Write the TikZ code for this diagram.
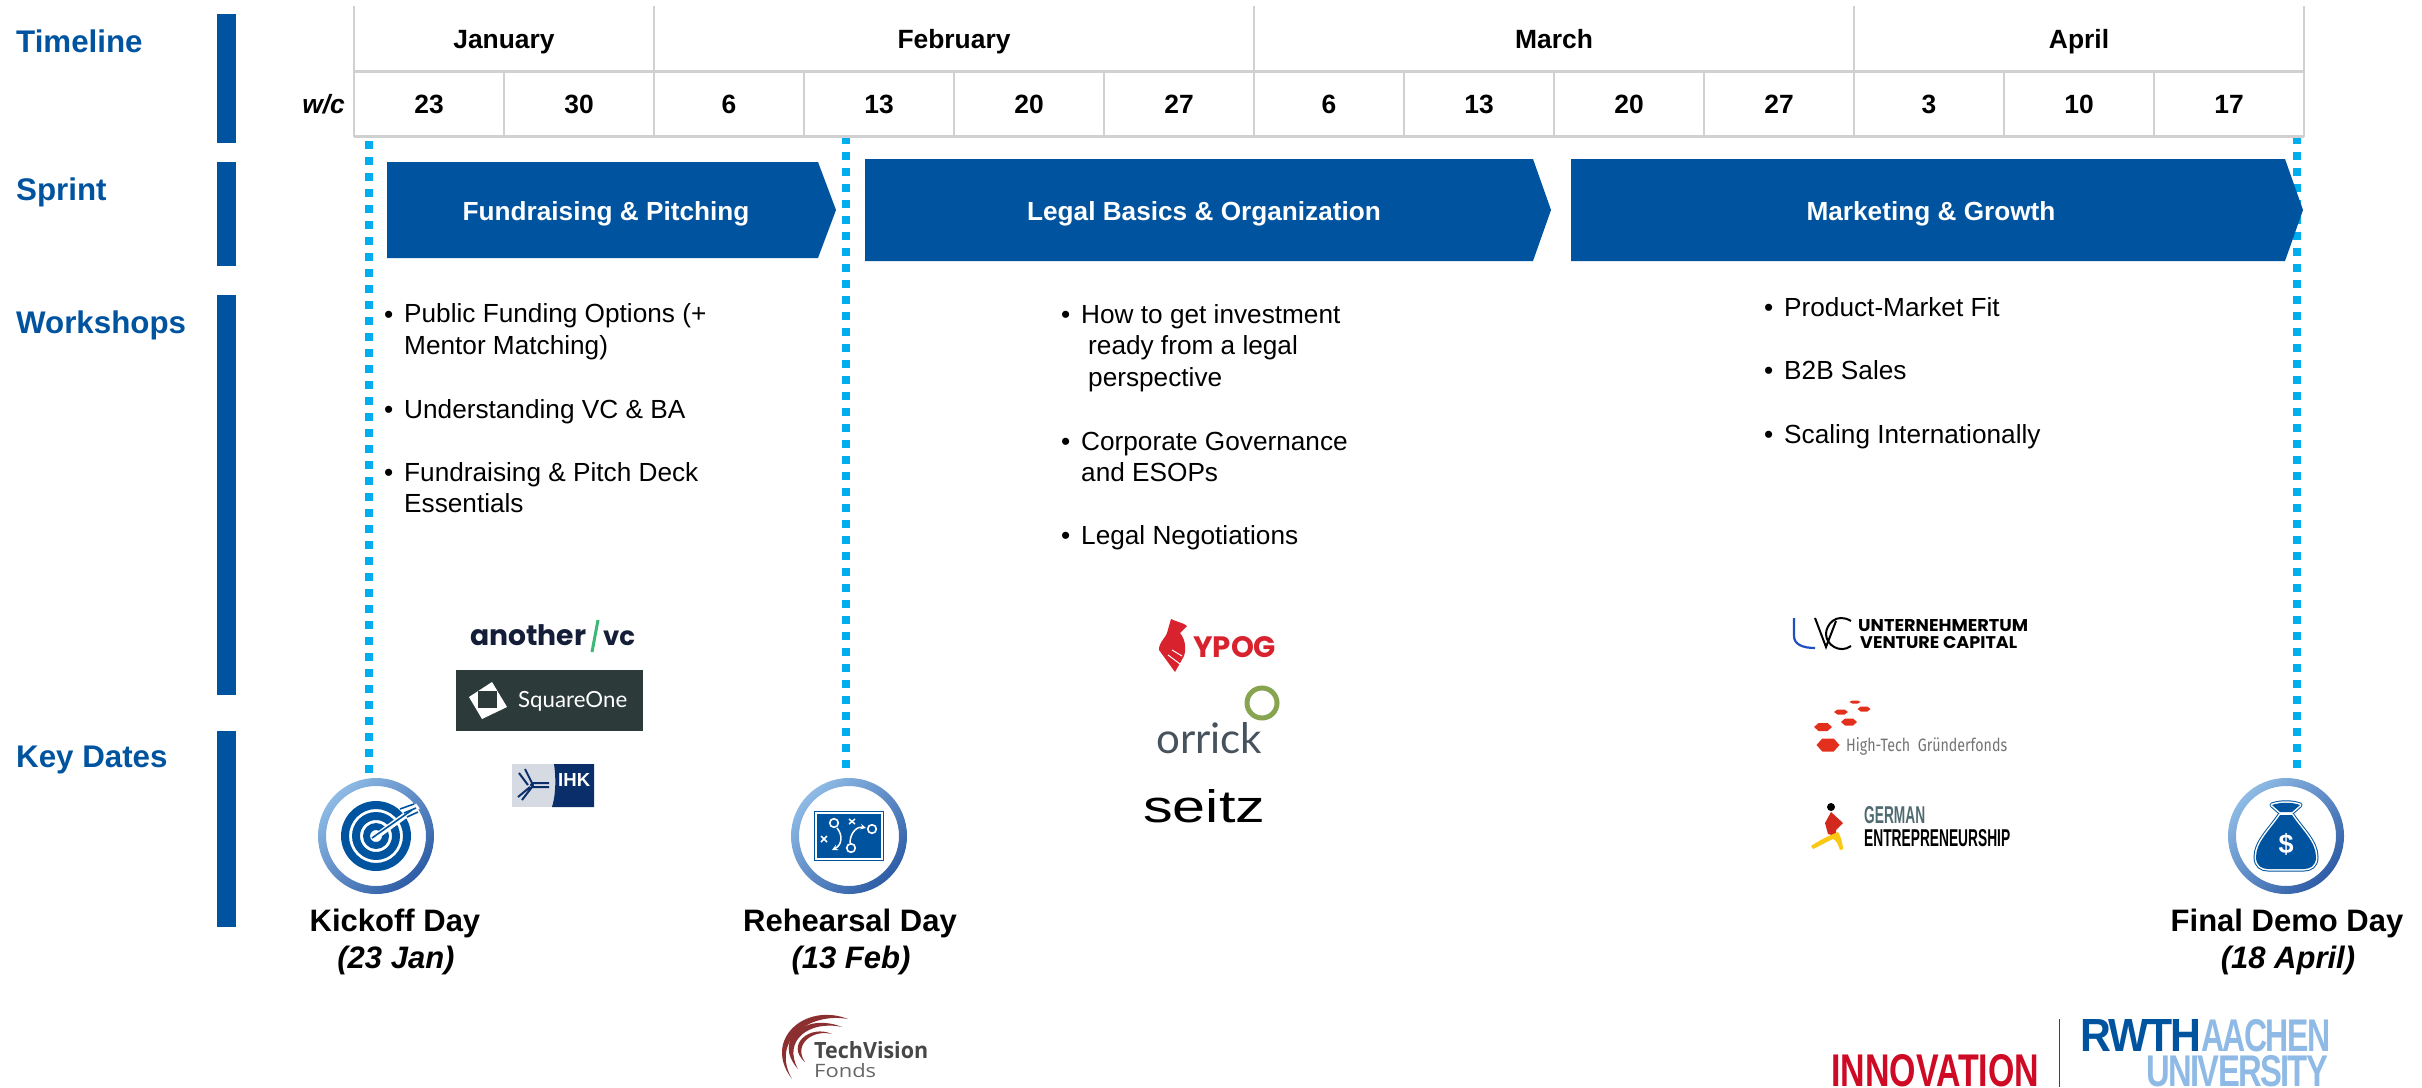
\documentclass[tikz,border=0pt]{standalone}
\usepackage{fontspec}
\usepackage{graphicx}
\setmainfont{Liberation Sans}
\newfontfamily\popf{Poppins}
\newfontfamily\openf{Open Sans}
\newfontfamily\latof{Lato}
\newfontfamily\firaf{Fira Sans}
\newfontfamily\tightf[LetterSpace=-5]{Liberation Sans}
\definecolor{rwthblue}{HTML}{00539F}
\definecolor{rwthlight}{HTML}{8EBAE5}
\definecolor{gridgrey}{HTML}{D0D0D0}
\definecolor{dotblue}{HTML}{00AEEF}
\definecolor{ringdark}{HTML}{2F5DA6}
\definecolor{hexred}{HTML}{E3301C}
\definecolor{navyink}{HTML}{141E38}
\definecolor{greenslash}{HTML}{3DB878}
\definecolor{sqdark}{HTML}{2C3B3A}
\definecolor{ihkgrey}{HTML}{D6DAE3}
\definecolor{ihknavy}{HTML}{0A2E6A}
\definecolor{tvred}{HTML}{8C2F30}
\definecolor{ypred}{HTML}{D8232F}
\definecolor{orrgreen}{HTML}{87A550}
\definecolor{orrgrey}{HTML}{46525E}
\definecolor{uvcblue}{HTML}{1F4FC0}
\definecolor{gerred}{HTML}{D2281E}
\definecolor{geryellow}{HTML}{FAC814}
\definecolor{gerslate}{HTML}{4F6A70}
\definecolor{innored}{HTML}{CE0A24}
\newcommand{\fz}[1]{\fontsize{#1}{#1}\selectfont}
% \fitlabel{name}{x}{baseline y}{width}{height}{colour}{font + text}
\newcommand{\fitlabel}[7]{\node[anchor=base west,inner sep=0pt,text=#6] (#1) at (#2,#3) {\resizebox{#4pt}{#5pt}{#7}};}
\newcommand{\hexa}[4]{\fill[hexred] (#1-#3/2,#2) -- (#1-#3/4,#2-#4/2) -- (#1+#3/4,#2-#4/2) -- (#1+#3/2,#2) -- (#1+#3/4,#2+#4/2) -- (#1-#3/4,#2+#4/2) -- cycle;}
\newcommand{\ring}[2]{\shade[even odd rule,top color=rwthlight,bottom color=ringdark,shading angle=45] (#1,#2) circle[radius=58] (#1,#2) circle[radius=50];}
\tikzset{
  sidebar/.style={fill=rwthblue},
  rowlabel/.style={anchor=base west,inner sep=0pt,text=rwthblue,font=\fz{31.3}\bfseries},
  month/.style={anchor=base,inner sep=0pt,font=\fz{26.4}\bfseries},
  sprintlabel/.style={anchor=base,inner sep=0pt,text=white,font=\fz{26.2}\bfseries},
  item/.style={anchor=base west,inner sep=0pt,font=\fz{26.2}},
  dayname/.style={anchor=base,inner sep=0pt,font=\fz{31}\bfseries},
  daydate/.style={anchor=base,inner sep=0pt,font=\fz{31}\bfseries\itshape},
  gridh/.style={draw=gridgrey,line width=3pt},
  gridv/.style={draw=gridgrey,line width=2pt},
  keyline/.style={draw=dotblue,line width=8pt,dash pattern=on 8pt off 8pt},
}
\begin{document}
\begin{tikzpicture}[x=1pt,y=-1pt]
\useasboundingbox (0,0) rectangle (2422,1087);
% side bars
\fill[sidebar] (217,14) rectangle (236,143);
\fill[sidebar] (217,162) rectangle (236,266);
\fill[sidebar] (217,295) rectangle (236,695);
\fill[sidebar] (217,731) rectangle (236,927);
\node[rowlabel] (lblTimeline) at (16,52) {Timeline};
\node[rowlabel] (lblSprint) at (16,200) {Sprint};
\node[rowlabel] (lblWorkshops) at (16,333) {Workshops};
\node[rowlabel] (lblKeyDates) at (16,767) {Key Dates};
% dotted key-date lines
\coordinate (kickTop) at (369,141); \coordinate (kickEnd) at (369,774);
\coordinate (rehTop) at (846,136); \coordinate (rehEnd) at (846,770);
\coordinate (demoTop) at (2297,136); \coordinate (demoEnd) at (2297,770);
\draw[keyline] (kickTop) -- (kickEnd);
\draw[keyline] (rehTop) -- (rehEnd);
\draw[keyline] (demoTop) -- (demoEnd);
% grid
\foreach \k in {0,...,13} {\draw[gridv] (354+150*\k,71) -- (354+150*\k,137);}
\foreach \xx in {354,654,1254,1854,2304} {\draw[gridv] (\xx,6) -- (\xx,71);}
\draw[gridh] (354,71) -- (2304,71);
\draw[gridh] (354,136) -- (2304,136);
\node[month] (mJan) at (504,48) {January};
\node[month] (mFeb) at (954,48) {February};
\node[month] (mMar) at (1554,48) {March};
\node[month] (mApr) at (2079,48) {April};
\node[anchor=base east,inner sep=0pt,font=\fz{26.4}\bfseries\itshape] (wc) at (345,113) {w/c};
\foreach \lab [count=\i from 0] in {23,30,6,13,20,27,6,13,20,27,3,10,17} {
  \node[month] (wk\i) at (429+150*\i,113) {\lab};
}
% sprint arrows
\fill[rwthblue] (387,162) -- (818,162) -- (836,210) -- (818,258) -- (387,258) -- cycle;
\fill[rwthblue] (865,159) -- (1533,159) -- (1551,210) -- (1533,261) -- (865,261) -- cycle;
\fill[rwthblue] (1571,159) -- (2285,159) -- (2303,210) -- (2285,261) -- (1571,261) -- cycle;
\node[sprintlabel] (spA) at (606,220) {Fundraising \& Pitching};
\node[sprintlabel] (spB) at (1204,220) {Legal Basics \& Organization};
\node[sprintlabel] (spC) at (1931,220) {Marketing \& Growth};
% workshops col 1
\node[item] (a0) at (384,323) {•};
\node[item] (a1) at (404,322) {Public Funding Options (+};
\node[item] (a2) at (404,354) {Mentor Matching)};
\node[item] (a3) at (384,418) {•};
\node[item] (a4) at (404,418) {Understanding VC \& BA};
\node[item] (a5) at (384,481) {•};
\node[item] (a6) at (404,481) {Fundraising \& Pitch Deck};
\node[item] (a7) at (404,512) {Essentials};
% col 2
\node[item] (b0) at (1061,323) {•};
\node[item] (b1) at (1081,323) {How to get investment};
\node[item] (b2) at (1088,354) {ready from a legal};
\node[item] (b3) at (1088,386) {perspective};
\node[item] (b4) at (1061,450) {•};
\node[item] (b5) at (1081,450) {Corporate Governance};
\node[item] (b6) at (1081,481) {and ESOPs};
\node[item] (b7) at (1061,544) {•};
\node[item] (b8) at (1081,544) {Legal Negotiations};
% col 3
\node[item] (c0) at (1764,316) {•};
\node[item] (c1) at (1784,316) {Product-Market Fit};
\node[item] (c2) at (1764,379) {•};
\node[item] (c3) at (1784,379) {B2B Sales};
\node[item] (c4) at (1764,443) {•};
\node[item] (c5) at (1784,443) {Scaling Internationally};
% rings
\ring{376}{836}
\ring{849}{836}
\ring{2286}{836}
% target icon
\foreach \ro/\ri in {35/27,24/16,13/6} {\fill[rwthblue,even odd rule] (376,836) circle[radius=\ro] (376,836) circle[radius=\ri];}
\draw[white,line width=6pt] (374,838) -- (418,806);
\draw[white,line width=5pt] (408,808) -- (418,815);
\draw[rwthblue,line width=1.6pt] (372,838) -- (412,810);
\draw[rwthblue,line width=1.6pt] (400,809) -- (414,804);
\draw[rwthblue,line width=1.6pt] (407,817) -- (418,812);
\draw[rwthblue,line width=1.6pt] (404,813) -- (416,808);
% plan icon
\fill[rwthblue] (814,811) rectangle (884,861);
\draw[white,line width=1.3pt] (816,813) rectangle (882,859);
\draw[white,line width=1.6pt] (834,823) circle[radius=4.3] (872,829) circle[radius=4.3] (851,848) circle[radius=4.3];
\draw[white,line width=1.5pt] (849,819) -- (855,824) (855,819) -- (849,824) (821,836) -- (827,842) (827,836) -- (821,842);
\draw[white,line width=1.5pt,->,>=stealth] (837,828) .. controls (843,835) and (842,845) .. (832,850);
\draw[white,line width=1.5pt,->,>=stealth] (850,843) .. controls (850,832) and (858,826) .. (866,828);
% money bag icon
\def\bag{(2280,815) .. controls (2270,830) and (2256,842) .. (2256,857) .. controls (2256,866) and (2262,869) .. (2268,869) -- (2304,869) .. controls (2310,869) and (2316,866) .. (2316,857) .. controls (2316,842) and (2302,830) .. (2292,815) -- cycle
 (2272,805) .. controls (2280,802) and (2292,802) .. (2300,805) -- (2292,812) -- (2280,812) -- cycle}
\draw[rwthblue,line width=5pt,line join=round] \bag;
\draw[white,line width=3pt,line join=round] \bag;
\fill[rwthblue] \bag;
\node[anchor=center,inner sep=0pt,text=white,font=\fz{27}\bfseries] (dollar) at (2286,844) {\$};
% key dates
\node[dayname] (dA) at (395,931) {Kickoff Day};
\node[daydate] (dB) at (396,968) {(23 Jan)};
\node[dayname] (dC) at (850,931) {Rehearsal Day};
\node[daydate] (dD) at (851,968) {(13 Feb)};
\node[dayname] (dE) at (2287,931) {Final Demo Day};
\node[daydate] (dF) at (2288,968) {(18 April)};
% another|vc
\node[anchor=base west,inner sep=0pt,text=navyink] (logoAnother) at (470,645) {\resizebox{116pt}{!}{\popf\bfseries another}};
\draw[greenslash,line width=3pt] (598,620) -- (592,652);
\node[anchor=base west,inner sep=0pt,text=navyink] (logoVc) at (603,645) {\resizebox{32pt}{!}{\popf\bfseries vc}};
% SquareOne
\fill[sqdark] (456,670) rectangle (643,731);
\fill[white] (492,682) -- (507,707) -- (482,719) -- (469,697) -- cycle;
\fill[sqdark] (478,691) rectangle (497,708);
\node[anchor=base west,inner sep=0pt,text=white] (logoSquare) at (518,707) {\resizebox{109pt}{!}{\latof SquareOne}};
% IHK
\fill[ihkgrey] (512,764) rectangle (556,807);
\fill[ihknavy] (554,764) -- (594,764) -- (594,807) -- (552,807) .. controls (556,795) and (556,776) .. (554,764) -- cycle;
\fitlabel{logoIHK}{558}{786}{32}{13}{white}{\bfseries IHK}
\draw[ihknavy,line width=2pt] (525,769) -- (532,783) -- (549,783) (519,773) -- (528,785) (532,787) -- (549,787) (532,787) -- (522,800) (530,787) -- (518,797);
\fill[ihknavy] (532,785) circle[radius=2];
% TechVision
\fill[tvred] (848,1019) .. controls (805,1002) and (762,1040) .. (792,1079) .. controls (770,1040) and (810,1012) .. (848,1019) -- cycle;
\fill[tvred] (842,1027) .. controls (805,1012) and (772,1040) .. (798,1069) .. controls (782,1040) and (810,1020) .. (842,1027) -- cycle;
\fill[tvred] (832,1034) .. controls (810,1024) and (785,1045) .. (805,1062) .. controls (793,1045) and (812,1029) .. (832,1034) -- cycle;
\fitlabel{logoTech}{814}{1058}{114}{17}{black!72}{\openf\bfseries TechVision}
\fitlabel{logoFonds}{814}{1077}{62}{14}{black!60}{\openf Fonds}
% YPOG
\fill[ypred] (1171,619) .. controls (1177,622) and (1184,623) .. (1187,626) -- (1180,633) .. controls (1186,640) and (1186,650) .. (1184,656) -- (1175,672) -- (1159,650) .. controls (1159,642) and (1164,640) .. (1167,633) -- cycle;
\draw[white,line width=1pt] (1172,650) -- (1182,656) (1168,655) -- (1180,664);
\fitlabel{logoYPOG}{1193}{657}{83}{21}{ypred}{\popf\bfseries YPOG}
% orrick
\draw[orrgreen,line width=5pt] (1262,703) circle[radius=15];
\fitlabel{logoOrrick}{1156}{753}{106}{31}{orrgrey}{\latof orrick}
% seitz
\fitlabel{logoSeitz}{1143}{822}{122}{33}{black}{seitz}
% UVC
\draw[uvcblue,line width=2.2pt] (1794,618) -- (1794,636) .. controls (1794,644) and (1802,648) .. (1815,648);
\draw[black,line width=2pt] (1815,618) -- (1826,647) -- (1836,621);
\draw[black,line width=2pt] (1851,621) .. controls (1836,612) and (1826,625) .. (1826,634) .. controls (1826,645) and (1840,654) .. (1851,646);
\fitlabel{logoUVCa}{1858}{631}{170}{12}{black}{\popf\bfseries UNTERNEHMERTUM}
\fitlabel{logoUVCb}{1860}{648}{157}{12}{black}{\popf\bfseries VENTURE CAPITAL}
% HTGF
\hexa{1828}{745}{23}{13}
\hexa{1823}{727}{18}{8}
\hexa{1849}{722}{16}{7}
\hexa{1841}{712}{14}{5}
\hexa{1864}{709}{13}{5}
\hexa{1855}{702}{11}{3}
\fitlabel{logoHTGF}{1846}{751}{161}{14}{black!55}{\firaf High-Tech\ \ Gründerfonds}
% German Entrepreneurship
\fill[black] (1831,807) circle[radius=4];
\fill[gerred] (1831,812) -- (1843,823) -- (1836,830) -- (1836,836) -- (1828,834) -- (1825,823) -- cycle;
\fill[geryellow] (1811,846) .. controls (1820,840) and (1828,836) .. (1838,832) .. controls (1842,838) and (1843,848) .. (1843,849) -- (1840,850) .. controls (1838,844) and (1836,840) .. (1833,839) .. controls (1826,842) and (1820,846) .. (1813,849) -- cycle;
\fitlabel{logoGerman}{1864}{823}{61}{17}{gerslate}{\bfseries GERMAN}
\fitlabel{logoEntre}{1864}{846}{146}{17}{black}{\bfseries ENTREPRENEURSHIP}
% footer
\fitlabel{logoInno}{1831}{1086}{208}{32}{innored}{\bfseries INNOVATION}
\coordinate (ruleTop) at (2059,1019); \coordinate (ruleEnd) at (2059,1087);
\draw[rwthblue,line width=1pt] (ruleTop) -- (ruleEnd);
\fitlabel{logoRWTH}{2080}{1051}{121}{32}{rwthblue}{\tightf\bfseries RWTH}
\fitlabel{logoAachen}{2201}{1051}{129}{32}{rwthlight}{\tightf\bfseries AACHEN}
\fitlabel{logoUni}{2146}{1086}{182}{31}{rwthlight}{\tightf\bfseries UNIVERSITY}
\end{tikzpicture}
\end{document}
